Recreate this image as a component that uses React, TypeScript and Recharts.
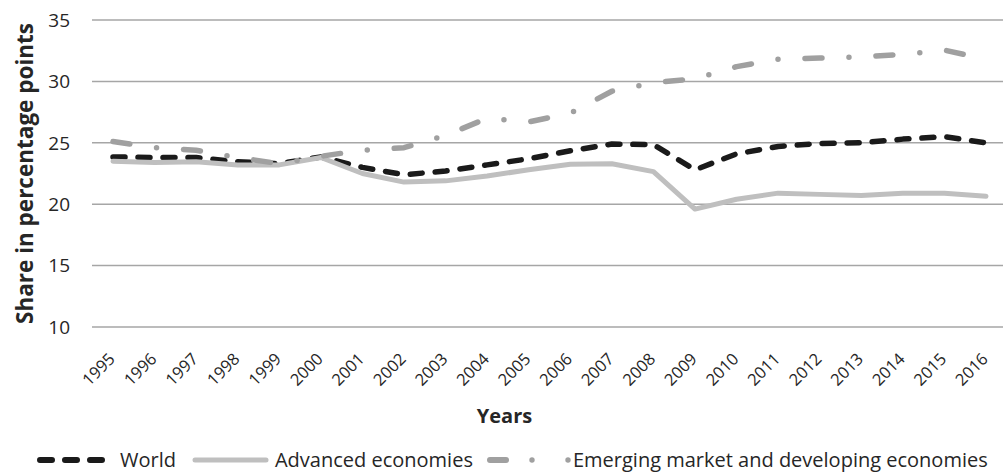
import React from 'react';
import { LineChart, Line, XAxis, YAxis, CartesianGrid, Legend } from 'recharts';

const years = ['1995','1996','1997','1998','1999','2000','2001','2002','2003','2004','2005','2006','2007','2008','2009','2010','2011','2012','2013','2014','2015','2016'];
const world = [23.85, 23.8, 23.8, 23.45, 23.3, 23.85, 23.0, 22.4, 22.7, 23.2, 23.7, 24.35, 24.9, 24.85, 22.8, 24.1, 24.7, 24.95, 25.0, 25.3, 25.5, 25.0];
const advanced = [23.5, 23.4, 23.45, 23.2, 23.2, 23.8, 22.5, 21.8, 21.9, 22.3, 22.8, 23.25, 23.3, 22.65, 19.6, 20.4, 20.9, 20.8, 20.7, 20.9, 20.9, 20.65];
const emerging = [25.1, 24.6, 24.4, 23.8, 23.3, 23.9, 24.4, 24.6, 25.6, 27.0, 26.7, 27.4, 29.2, 29.9, 30.2, 31.2, 31.8, 31.9, 32.0, 32.2, 32.55, 31.8];
const yTicks = [10, 15, 20, 25, 30, 35];

const seriesNames = {
  world: 'World',
  advanced: 'Advanced economies',
  emerging: 'Emerging market and developing economies',
};

const data = years.map((y, i) => ({ year: y, world: world[i], advanced: advanced[i], emerging: emerging[i] }));

const FONT = '"Open Sans", "DejaVu Sans", sans-serif';
const PAGE_W = 1003;
const PAGE_H = 476;
const TEXT = '#262626';
const LEGEND_H = 32;

const XTick = (props: any) => {
  const { x, y, payload } = props;
  return (
    <g transform={`translate(${x + 3},${y + 33})`}>
      <text textAnchor="end" transform="rotate(-45)" fontSize={16.5} fill={TEXT} fontFamily={FONT}>
        {payload.value}
      </text>
    </g>
  );
};

const YTitle = (props: any) => {
  const vb = props.viewBox || {};
  const cx = (vb.x || 0) + 24;
  const cy = (vb.y || 0) + (vb.height || 0) / 2;
  return (
    <text x={cx} y={cy} transform={`rotate(-90, ${cx}, ${cy})`} textAnchor="middle" dominantBaseline="central"
      fontSize={22.5} fontWeight={700} fill={TEXT} fontFamily={FONT}>
      Share in percentage points
    </text>
  );
};

const XTitle = (props: any) => {
  const vb = props.viewBox || {};
  return (
    <text x={PAGE_W / 2 + 3} y={(vb.y || 0) + 96} textAnchor="middle" fontSize={20} fontWeight={700} fill={TEXT} fontFamily={FONT}>
      Years
    </text>
  );
};

const LegendContent = () => (
  <div style={{ boxSizing: 'border-box', display: 'flex', alignItems: 'center', height: LEGEND_H, paddingBottom: 1, paddingLeft: 37, fontFamily: FONT, fontSize: 20, color: TEXT, whiteSpace: 'nowrap', lineHeight: '24px' }}>
    <svg width={70} height={12} style={{ marginRight: 13 }}>
      <line x1={3} y1={6} x2={67} y2={6} stroke="#1a1a1a" strokeWidth={6} strokeDasharray="12 13" strokeLinecap="round" />
    </svg>
    <span style={{ marginRight: 16 }}>{seriesNames.world}</span>
    <svg width={77} height={12} style={{ marginRight: 6 }}>
      <line x1={3} y1={6} x2={74} y2={6} stroke="#bfbfbf" strokeWidth={5} strokeLinecap="round" />
    </svg>
    <span style={{ marginRight: 14 }}>{seriesNames.advanced}</span>
    <svg width={84} height={12} style={{ marginRight: 2 }}>
      <line x1={3} y1={6} x2={19} y2={6} stroke="#a0a0a0" strokeWidth={6} strokeLinecap="round" />
      <circle cx={45} cy={6} r={2.7} fill="#a0a0a0" />
      <circle cx={81} cy={6} r={2.7} fill="#a0a0a0" />
    </svg>
    <span>{seriesNames.emerging}</span>
  </div>
);

export default function App() {
  return (
    <div style={{ position: 'absolute', left: 0, top: 0, width: PAGE_W, height: PAGE_H, overflow: 'hidden', background: '#ffffff' }}>
      <LineChart width={1010} height={PAGE_H} data={data} margin={{ top: 20, right: 3, left: 0, bottom: 0 }}>
        <CartesianGrid vertical={false} stroke="#a6a6a6" strokeWidth={1.5} />
        <XAxis
          dataKey="year"
          interval={0}
          padding={{ left: 21, right: 21 }}
          axisLine={false}
          tickLine={false}
          tickSize={0}
          tickMargin={0}
          height={149 - LEGEND_H}
          tick={<XTick />}
          label={{ content: (p: any) => <XTitle {...p} /> }}
        />
        <YAxis
          type="number"
          domain={[10, 35]}
          ticks={yTicks}
          width={92}
          axisLine={false}
          tickLine={false}
          tickSize={0}
          tickMargin={22}
          tick={{ fontSize: 19, fill: TEXT, fontFamily: FONT }}
          label={{ content: (p: any) => <YTitle {...p} /> }}
        />
        <Legend verticalAlign="bottom" align="left" height={LEGEND_H} wrapperStyle={{ left: 0, width: PAGE_W }} content={<LegendContent />} />
        <Line type="linear" dataKey="world" name={seriesNames.world} stroke="#1a1a1a" strokeWidth={5.5} strokeDasharray="12 13" strokeLinecap="round" strokeLinejoin="round" dot={false} isAnimationActive={false} />
        <Line type="linear" dataKey="advanced" name={seriesNames.advanced} stroke="#bfbfbf" strokeWidth={5} strokeLinecap="round" strokeLinejoin="round" dot={false} isAnimationActive={false} />
        <Line type="linear" dataKey="emerging" name={seriesNames.emerging} stroke="#a0a0a0" strokeWidth={5.5} strokeDasharray="17 27 0 27" strokeLinecap="round" strokeLinejoin="round" dot={false} isAnimationActive={false} />
      </LineChart>
    </div>
  );
}
